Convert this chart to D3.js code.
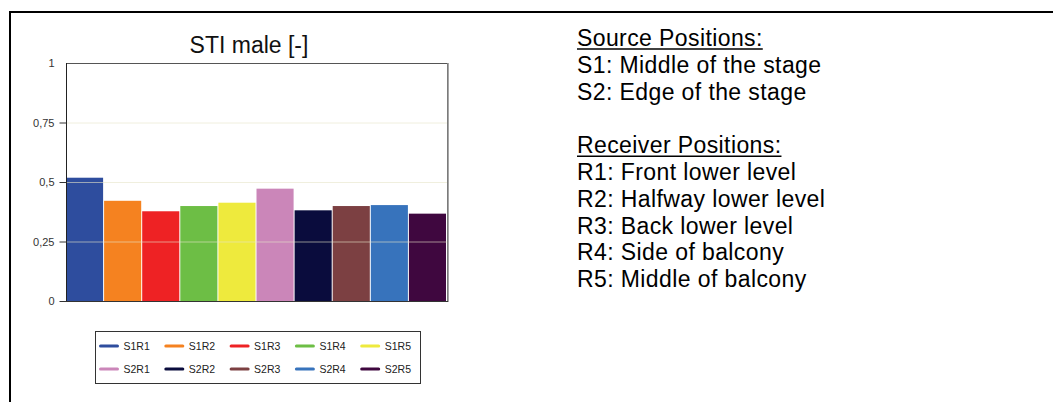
<!DOCTYPE html>
<html>
<head>
<meta charset="utf-8">
<script src="https://cdn.jsdelivr.net/npm/d3@7"></script>
<style>
  body { margin: 0; background: #fff; }
  svg { display: block; font-family: "Liberation Sans", Arial, sans-serif; }
</style>
</head>
<body>
<div id="chart"></div>
<script>
// chart data
var series = ["S1R1", "S1R2", "S1R3", "S1R4", "S1R5", "S2R1", "S2R2", "S2R3", "S2R4", "S2R5"];
var values = [0.518, 0.421, 0.377, 0.399, 0.413, 0.472, 0.381, 0.399, 0.403, 0.367];
var colors = ["#2e4d9e", "#f58220", "#ee2224", "#6dbe45", "#eeea3d",
              "#cb86b9", "#0a0c3d", "#7c4042", "#3773bc", "#3f073f"];
var yTicks = [0, 0.25, 0.5, 0.75, 1];
var yTickLabels = ["0", "0,25", "0,5", "0,75", "1"];
var sourceLines = ["S1: Middle of the stage", "S2: Edge of the stage"];
var receiverLines = ["R1: Front lower level", "R2: Halfway lower level", "R3: Back lower level",
                     "R4: Side of balcony", "R5: Middle of balcony"];

var svgWidth = 1053;
var svgHeight = 402;
var plot = { left: 66, right: 447, top: 63, bottom: 301 };

var svg = d3.select("#chart")
  .append("svg")
  .attr("width", svgWidth)
  .attr("height", svgHeight);

// outer frame (top and left edges only)
svg.append("path")
  .attr("d", "M10," + svgHeight + " V12 H" + svgWidth)
  .attr("fill", "none")
  .attr("stroke", "#000")
  .attr("stroke-width", 2);

var x = d3.scaleBand()
  .domain(series)
  .range([plot.left, plot.right])
  .padding(0);

var y = d3.scaleLinear()
  .domain([0, 1])
  .range([plot.bottom, plot.top]);

// title
svg.append("text")
  .attr("x", 249)
  .attr("y", 53)
  .attr("text-anchor", "middle")
  .attr("font-size", "23px")
  .attr("fill", "#111")
  .text("STI male [-]");

// plot box
svg.append("rect")
  .attr("x", plot.left)
  .attr("y", plot.top)
  .attr("width", plot.right - plot.left)
  .attr("height", plot.bottom - plot.top)
  .attr("fill", "#fff");

// bars
svg.selectAll("rect.bar")
  .data(values)
  .enter()
  .append("rect")
  .attr("class", "bar")
  .attr("x", (d, i) => x(series[i]))
  .attr("y", d => y(d))
  .attr("width", x.bandwidth() - 1)
  .attr("height", d => y(0) - y(d))
  .attr("fill", (d, i) => colors[i]);

// gridlines (faint, drawn over the bars)
svg.append("g")
  .selectAll("line")
  .data(yTicks.filter(t => t > 0 && t < 1))
  .enter()
  .append("line")
  .attr("x1", plot.left)
  .attr("x2", plot.right)
  .attr("y1", d => y(d) + 0.5)
  .attr("y2", d => y(d) + 0.5)
  .attr("stroke", "#e6e4c8")
  .attr("stroke-opacity", 0.6);

// top and right border of plot area
svg.append("path")
  .attr("d", "M" + plot.left + "," + (plot.top + 0.5) + " H" + (plot.right + 0.5) + " V" + plot.bottom)
  .attr("fill", "none")
  .attr("stroke", "#555")
  .attr("stroke-width", 1);
svg.append("line")
  .attr("x1", plot.right + 1)
  .attr("x2", plot.right + 1)
  .attr("y1", plot.top)
  .attr("y2", plot.bottom + 1)
  .attr("stroke", "#888")
  .attr("stroke-width", 1.5);

// y axis
var leftAxis = d3.axisLeft(y)
  .tickValues(yTicks)
  .tickSize(7)
  .tickPadding(5)
  .tickFormat((d, i) => yTickLabels[i]);

var yAxis = svg.append("g")
  .attr("transform", "translate(" + (plot.left + 0.5) + ",0)")
  .call(leftAxis);
yAxis.select(".domain").attr("stroke", "#222").attr("d", "M0," + plot.top + "V" + plot.bottom);
yAxis.selectAll(".tick line").attr("stroke", "#333");
yAxis.selectAll(".tick text")
  .attr("font-family", "'Liberation Sans', Arial, sans-serif")
  .attr("font-size", "11px")
  .attr("fill", "#333");
yAxis.selectAll(".tick").filter(d => d === 1).select("line").remove();

// x axis baseline
svg.append("line")
  .attr("x1", plot.left)
  .attr("x2", plot.right + 1)
  .attr("y1", plot.bottom + 0.5)
  .attr("y2", plot.bottom + 0.5)
  .attr("stroke", "#333");

// legend
var legend = svg.append("g").attr("transform", "translate(95.5,331.5)");
legend.append("rect")
  .attr("width", 325)
  .attr("height", 52)
  .attr("fill", "#fff")
  .attr("stroke", "#333");

var items = legend.selectAll("g.item")
  .data(series)
  .enter()
  .append("g")
  .attr("class", "item")
  .attr("transform", (d, i) => "translate(" + (5 + (i % 5) * 65.3) + "," + (i < 5 ? 14.5 : 37.5) + ")");

items.append("line")
  .attr("x1", 0)
  .attr("x2", 17)
  .attr("stroke", (d, i) => colors[i])
  .attr("stroke-width", 3)
  .attr("stroke-linecap", "round");

items.append("text")
  .attr("x", 23)
  .attr("dy", "0.35em")
  .attr("font-size", "10.5px")
  .attr("fill", "#222")
  .text(d => d);

// side text
var side = svg.append("g")
  .attr("font-size", "23px")
  .attr("letter-spacing", "0.4px")
  .attr("fill", "#000");
var lineH = 26.8;

function heading(txt, yPos) {
  var t = side.append("text").attr("x", 577).attr("y", yPos).text(txt);
  var w = t.node().getComputedTextLength();
  side.append("line")
    .attr("x1", 577).attr("x2", 577 + w)
    .attr("y1", yPos + 3).attr("y2", yPos + 3)
    .attr("stroke", "#000").attr("stroke-width", 1.4);
}

heading("Source Positions:", 46);
side.selectAll("text.src")
  .data(sourceLines)
  .enter()
  .append("text")
  .attr("class", "src")
  .attr("x", 577)
  .attr("y", (d, i) => 46 + (i + 1) * lineH)
  .text(d => d);

heading("Receiver Positions:", 46 + 4 * lineH);
side.selectAll("text.rcv")
  .data(receiverLines)
  .enter()
  .append("text")
  .attr("class", "rcv")
  .attr("x", 577)
  .attr("y", (d, i) => 46 + (i + 5) * lineH)
  .text(d => d);
</script>
</body>
</html>
